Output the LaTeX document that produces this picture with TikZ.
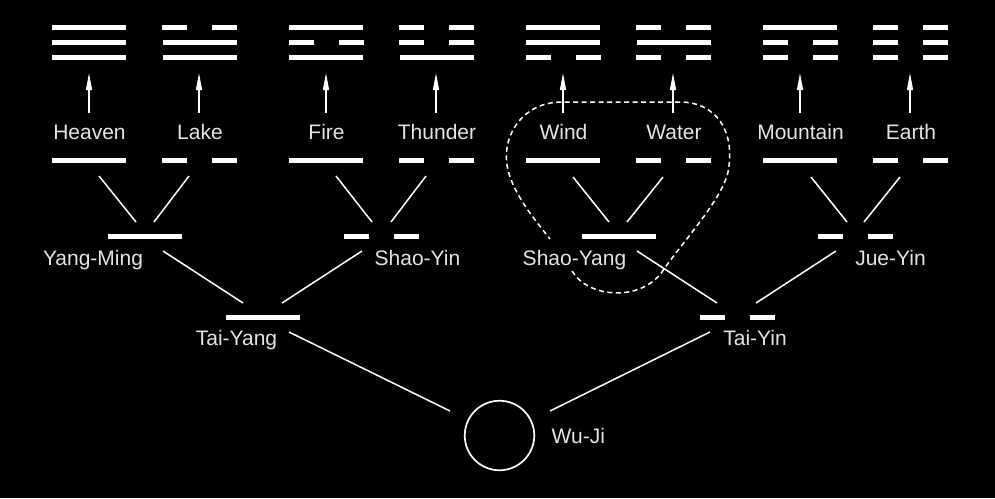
\documentclass[tikz,border=0pt]{standalone}
\usepackage{fontspec}
\setmainfont{Liberation Sans}
\usetikzlibrary{arrows.meta}
\definecolor{labelgray}{RGB}{228,228,228}
\newcommand{\yangbar}[2]{\fill[white] (#1-37,#2-2.4) rectangle (#1+37,#2+2.4);}
\newcommand{\yinbar}[2]{\fill[white] (#1-37.5,#2-2.4) rectangle (#1-12.5,#2+2.4);\fill[white] (#1+12.5,#2-2.4) rectangle (#1+37.5,#2+2.4);}
\begin{document}
\begin{tikzpicture}[x=1pt,y=-1pt,
  lbl/.style={text=labelgray, font=\fontsize{21}{24}\selectfont, inner sep=0pt, anchor=base},
  conn/.style={draw=white, line width=1.5pt},
  arr/.style={draw=white, line width=1.3pt, -{Triangle[length=17pt,width=6pt]}},
  loopline/.style={draw=white, line width=1.5pt, dash pattern=on 5pt off 3.5pt},
  ring/.style={draw=white, line width=1.7pt, circle, minimum size=69.5pt, inner sep=0pt}]
\useasboundingbox (0,0) rectangle (995,498);
\fill[black] (0,0) rectangle (995,498);

% trigrams (top, middle, bottom)
\yangbar{89}{27.3}\yangbar{89}{42.3}\yangbar{89}{57.3}
\yinbar{199.5}{27.3}\yangbar{199.5}{42.3}\yangbar{199.5}{57.3}
\yangbar{326}{27.3}\yinbar{326}{42.3}\yangbar{326}{57.3}
\yinbar{436.5}{27.3}\yinbar{436.5}{42.3}\yangbar{436.5}{57.3}
\yangbar{563}{27.3}\yangbar{563}{42.3}\yinbar{563}{57.3}
\yinbar{673.5}{27.3}\yangbar{673.5}{42.3}\yinbar{673.5}{57.3}
\yangbar{800}{27.3}\yinbar{800}{42.3}\yinbar{800}{57.3}
\yinbar{910.5}{27.3}\yinbar{910.5}{42.3}\yinbar{910.5}{57.3}

% arrows
\foreach \n/\x in {heaven/89,lake/199,fire/326,thunder/436,wind/563,water/673,mountain/800,earth/910}{
  \coordinate (\n A) at (\x,113);
  \coordinate (\n T) at (\x,73);
  \draw[arr] (\n A) -- (\n T);
}

% top labels
\node[lbl] (heaven) at (89.5,139) {Heaven};
\node[lbl] (lake) at (200,139) {Lake};
\node[lbl] (fire) at (326.5,139) {Fire};
\node[lbl] (thunder) at (437,139) {Thunder};
\node[lbl] (wind) at (563.5,139) {Wind};
\node[lbl] (water) at (674,139) {Water};
\node[lbl] (mountain) at (800.5,139) {Mountain};
\node[lbl] (earth) at (911,139) {Earth};

% bigram-level lines
\yangbar{89}{160.3}\yinbar{199.5}{160.3}
\yangbar{326}{160.3}\yinbar{436.5}{160.3}
\yangbar{563}{160.3}\yinbar{673.5}{160.3}
\yangbar{800}{160.3}\yinbar{910.5}{160.3}

% second level
\yangbar{144.5}{236.5}
\yinbar{381.5}{236.5}
\yangbar{618.5}{236.5}
\yinbar{855.5}{236.5}
\node[lbl] (yangming) at (93,265) {Yang-Ming};
\node[lbl] (shaoyin) at (417.5,265) {Shao-Yin};
\node[lbl] (shaoyang) at (574.5,265) {Shao-Yang};
\node[lbl] (jueyin) at (890.5,265) {Jue-Yin};

% third level
\yangbar{263}{317.5}
\yinbar{737}{317.5}
\node[lbl] (taiyang) at (236.5,345) {Tai-Yang};
\node[lbl] (taiyin) at (755,345) {Tai-Yin};

% Wu-Ji
\node[ring] (wuji) at (499.5,435.5) {};
\node[lbl, anchor=base west] (wujilbl) at (551.5,443) {Wu-Ji};

% connector end points
\coordinate (h1) at (99,176);   \coordinate (ym1) at (136,222);
\coordinate (l1) at (189,176);  \coordinate (ym2) at (154,222);
\coordinate (f1) at (336,176);  \coordinate (sy1) at (372,222);
\coordinate (t1) at (426,176);  \coordinate (sy2) at (391,222);
\coordinate (w1) at (573,177);  \coordinate (sg1) at (609,222);
\coordinate (wa1) at (663,177); \coordinate (sg2) at (627,222);
\coordinate (m1) at (811,177);  \coordinate (jy1) at (847,222);
\coordinate (e1) at (900,177);  \coordinate (jy2) at (864,222);
\coordinate (ym3) at (163,251); \coordinate (ty1) at (243,303);
\coordinate (sy3) at (362,251); \coordinate (ty2) at (282,303);
\coordinate (sg3) at (637,251); \coordinate (tn1) at (717,303);
\coordinate (jy3) at (836,251); \coordinate (tn2) at (756,303);
\coordinate (ty3) at (289,332); \coordinate (wj1) at (450,411);
\coordinate (tn3) at (710,332); \coordinate (wj2) at (550,411);

\draw[conn] (h1) -- (ym1);  \draw[conn] (l1) -- (ym2);
\draw[conn] (f1) -- (sy1);  \draw[conn] (t1) -- (sy2);
\draw[conn] (w1) -- (sg1);  \draw[conn] (wa1) -- (sg2);
\draw[conn] (m1) -- (jy1);  \draw[conn] (e1) -- (jy2);
\draw[conn] (ym3) -- (ty1); \draw[conn] (sy3) -- (ty2);
\draw[conn] (sg3) -- (tn1); \draw[conn] (jy3) -- (tn2);
\draw[conn] (ty3) -- (wj1); \draw[conn] (tn3) -- (wj2);

% dashed loop round Shao-Yang
\draw[loopline] (572,271) .. controls (588,298) and (640,302) .. (662,272)
  .. controls (680,245) and (722,200) .. (728,172)
  .. controls (736,130) and (715,102) .. (680,102)
  -- (562,102)
  .. controls (520,102) and (500,140) .. (508,170)
  .. controls (514,195) and (535,220) .. (550,239);
\end{tikzpicture}
\end{document}
